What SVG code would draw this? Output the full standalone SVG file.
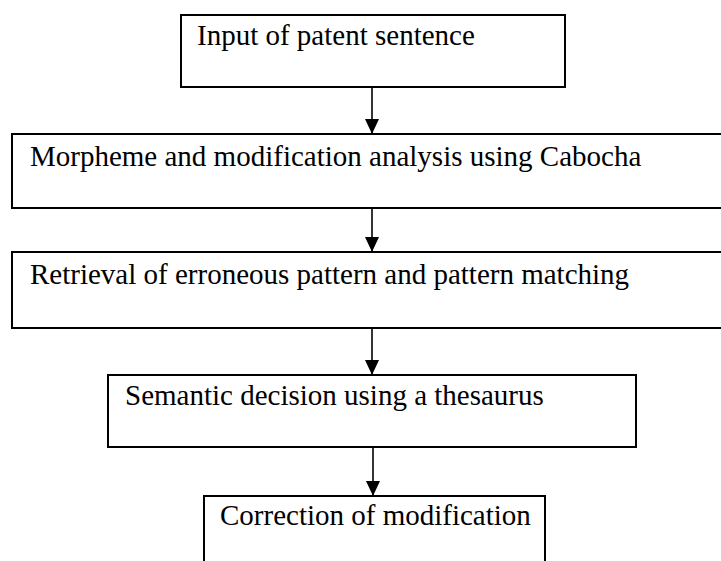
<svg xmlns="http://www.w3.org/2000/svg" width="721" height="561" viewBox="0 0 721 561">
<style>
.box{fill:#fff;stroke:#000;stroke-width:2}
.lbl{font-family:"Liberation Serif","Times New Roman",serif;font-size:29px;fill:#000}
.conn{stroke:#000;stroke-width:1.6;fill:none}
</style>
<defs>
<marker id="ah" markerWidth="15" markerHeight="14" refX="15" refY="7" orient="auto" markerUnits="userSpaceOnUse">
<path d="M0,0 L15,7 L0,14 Z" fill="#000"/>
</marker>
</defs>
<rect width="721" height="561" fill="#fff"/>
<g id="n1"><rect class="box" x="181" y="15" width="384" height="72"/><text class="lbl" x="197" y="45">Input of patent sentence</text></g>
<g id="n2"><rect class="box" x="12" y="134" width="712" height="74"/><text class="lbl" x="30" y="166">Morpheme and modification analysis using Cabocha</text></g>
<g id="n3"><rect class="box" x="12" y="252" width="712" height="76"/><text class="lbl" x="30" y="284">Retrieval of erroneous pattern and pattern matching</text></g>
<g id="n4"><rect class="box" x="108" y="375" width="528" height="72"/><text class="lbl" x="125" y="405">Semantic decision using a thesaurus</text></g>
<g id="n5"><path class="box" d="M204,565 V496 H545 V565"/><text class="lbl" x="220" y="525">Correction of modification</text></g>
<g id="connectors">
<line class="conn" x1="372" y1="87" x2="372" y2="134" marker-end="url(#ah)"/>
<line class="conn" x1="372" y1="208" x2="372" y2="252" marker-end="url(#ah)"/>
<line class="conn" x1="372" y1="328" x2="372" y2="375" marker-end="url(#ah)"/>
<line class="conn" x1="373" y1="447" x2="373" y2="496" marker-end="url(#ah)"/>
</g>
</svg>
